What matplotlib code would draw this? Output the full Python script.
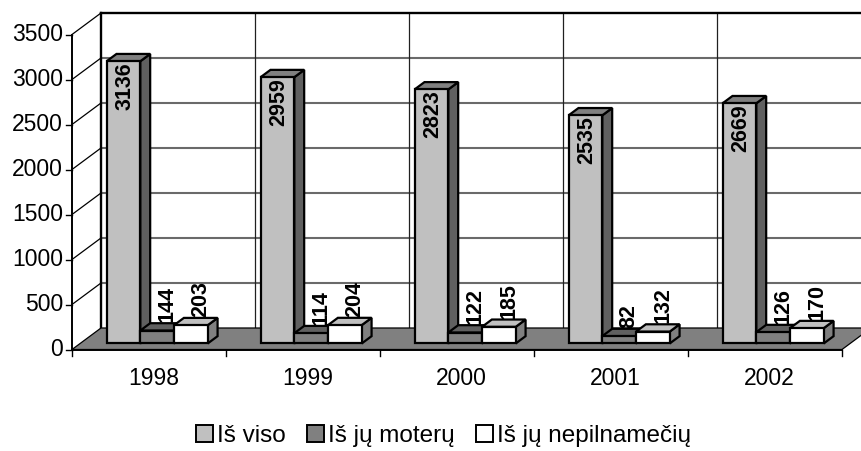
import matplotlib
matplotlib.use('Agg')
import matplotlib.pyplot as plt
from matplotlib.patches import Polygon, Patch

years = ['1998', '1999', '2000', '2001', '2002']
total = [3136, 2959, 2823, 2535, 2669]
women = [144, 114, 122, 82, 126]
minors = [203, 204, 185, 132, 170]
series_names = ['Iš viso', 'Iš jų moterų', 'Iš jų nepilnamečių']
yticks = [0, 500, 1000, 1500, 2000, 2500, 3000, 3500]

# face colours per series: front, top, side
face_colors = [
    ('#c0c0c0', '#808080', '#606060'),
    ('#808080', '#606060', '#404040'),
    ('#ffffff', '#c0c0c0', '#808080'),
]

plt.rcParams['font.family'] = ['Liberation Sans', 'DejaVu Sans']

fig = plt.figure(figsize=(8.61, 4.51), dpi=100)
ax = fig.add_axes([0, 0, 1, 1])
ax.axis('off')

# pixel -> data mapping: x in category units, y in values
PX0, PXC = 72, 154.0
PY0, PYV = 349.5, 0.09
ax.set_xlim(-PX0 / PXC, (861 - PX0) / PXC)
ax.set_ylim((PY0 - 451) / PYV, PY0 / PYV)

DX = 29 / PXC          # depth offset in category units
DY = 21.5 / PYV        # depth offset in value units
ymax = yticks[-1]
n = len(years)
LW = 1.6


def poly(pts, fc, ec='black', lw=LW, z=1):
    ax.add_patch(Polygon(pts, closed=True, facecolor=fc, edgecolor=ec,
                         linewidth=lw, zorder=z, joinstyle='miter'))


# walls
poly([(DX, DY), (n + DX, DY), (n + DX, ymax + DY), (DX, ymax + DY)], 'white', lw=0, z=1)
poly([(0, 0), (DX, DY), (DX, ymax + DY), (0, ymax)], 'white', lw=0, z=1)
for v in yticks[1:-1]:
    ax.plot([DX, n + DX], [v + DY, v + DY], color='#6a6a6a', lw=1.5, zorder=2)
for v in yticks[1:]:
    ax.plot([0, DX], [v, v + DY], color='black', lw=0.9, zorder=2)
for k in range(1, n):
    ax.plot([k + DX, k + DX], [DY, ymax + DY], color='#202020', lw=0.9, zorder=2)
ax.plot([DX, n + DX], [ymax + DY, ymax + DY], color='black', lw=1.7, zorder=3)
ax.plot([DX, DX], [DY, ymax + DY], color='black', lw=1.7, zorder=3)

# floor
poly([(0, 0), (n, 0), (n + DX, DY), (DX, DY)], '#808080', lw=0.9, z=3)

# axes lines and ticks
ax.plot([0, 0], [0, ymax], color='black', lw=1.4, zorder=4)
ax.plot([0, n], [0, 0], color='black', lw=1.4, zorder=4)
tick_dx = 6 / PXC
tick_dy = 6 / PYV
for v in yticks:
    ax.plot([-tick_dx, 0], [v, v], color='black', lw=1.0, zorder=4)
    ax.text(-9 / PXC, v, str(v), ha='right', va='center', fontsize=16.5)
for k in range(n + 1):
    ax.plot([k, k], [0, -tick_dy], color='black', lw=1.0, zorder=4)
for i, y in enumerate(years):
    ax.text(i + 0.53, -318, y, ha='center', va='center', fontsize=16.5)

# bars
w = 33.7 / PXC
gap = 26.5 / PXC
d0, d1 = 0.28, 0.62
data = [total, women, minors]
for i in range(n):
    for s, vals in enumerate(data):
        v = vals[i]
        fc, tc, sc = face_colors[s]
        x0 = i + gap + s * w + d0 * DX
        x1 = x0 + w
        y0 = d0 * DY
        ex = (d1 - d0) * DX
        ey = (d1 - d0) * DY
        z = 5 + i * 3 + s
        poly([(x1, y0), (x1 + ex, y0 + ey), (x1 + ex, y0 + v + ey), (x1, y0 + v)], sc, z=z)
        poly([(x0, y0 + v), (x1, y0 + v), (x1 + ex, y0 + v + ey), (x0 + ex, y0 + v + ey)], tc, z=z)
        poly([(x0, y0), (x1, y0), (x1, y0 + v), (x0, y0 + v)], fc, z=z)
        if v > 1000:
            ax.text((x0 + x1) / 2 + 1.5 / PXC, y0 + v - 1 / PYV, str(v), rotation=90,
                    ha='center', va='top', fontsize=15.5, fontweight='bold', zorder=30)
        else:
            ax.text((x0 + x1) / 2 + ex, y0 + v + ey + 1 / PYV, str(v), rotation=90,
                    ha='center', va='bottom', fontsize=15.5, fontweight='bold', zorder=30)

handles = [Patch(facecolor=face_colors[s][0], edgecolor='black', linewidth=1.4,
                 label=series_names[s]) for s in range(3)]
fig.legend(handles=handles, loc='center', bbox_to_anchor=(0.515, 1 - 436 / 451),
           ncol=3, frameon=False, fontsize=17.5, handlelength=0.7, handleheight=0.7,
           handletextpad=0.15, columnspacing=0.9, borderaxespad=0)

fig.savefig('out.png', dpi=100)
